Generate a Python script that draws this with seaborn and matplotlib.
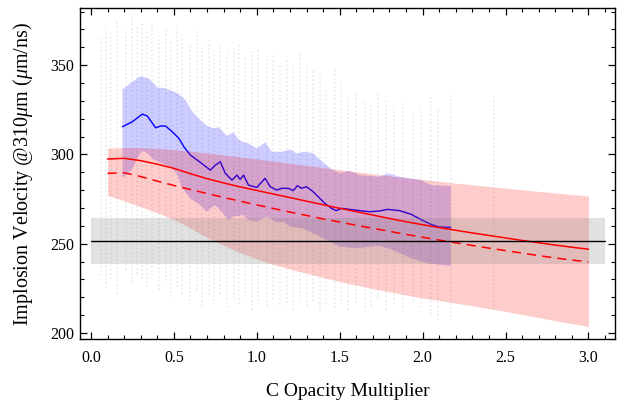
import numpy as np
import pandas as pd
import matplotlib
matplotlib.use("Agg")
import matplotlib.pyplot as plt
from matplotlib.ticker import MultipleLocator
import seaborn as sns

# ---------------- data ----------------
# faint simulation columns (x position, top and bottom of the dotted column)
col_x = [0.06, 0.09, 0.12, 0.16, 0.21, 0.25, 0.28, 0.31, 0.34, 0.37,
         0.41, 0.45, 0.48, 0.52, 0.55, 0.60, 0.64, 0.67, 0.71, 0.74,
         0.78, 0.82, 0.86, 0.89, 0.93, 0.97, 1.01, 1.06, 1.10, 1.14,
         1.18, 1.22, 1.26, 1.30, 1.34, 1.38, 1.42, 1.47, 1.51, 1.55,
         1.60, 1.65, 1.69, 1.73, 1.78, 1.83, 1.88, 1.94, 1.99, 2.05,
         2.09, 2.17, 2.43]
col_top = [365, 372, 368, 375, 370, 378, 372, 374, 369, 373,
           366, 370, 364, 371, 366, 362, 369, 360, 364, 358,
           362, 357, 360, 362, 355, 358, 359, 354, 357, 351,
           353, 349, 358, 350, 347, 345, 337, 348, 340, 332,
           335, 330, 329, 334, 331, 326, 329, 323, 326, 332,
           325, 333, 334]
col_bottom = [232, 225, 230, 222, 235, 228, 233, 230, 226, 232,
              224, 229, 220, 226, 222, 218, 224, 215, 221, 218,
              222, 214, 219, 216, 220, 213, 218, 215, 219, 214,
              217, 213, 220, 215, 218, 212, 216, 214, 218, 213,
              217, 212, 215, 219, 213, 216, 212, 218, 214, 210,
              207, 209, 213]

# blue band (upper / lower edges) and blue mean line
blue_up_x = [0.19, 0.25, 0.30, 0.35, 0.40, 0.44, 0.49, 0.53, 0.57, 0.60,
             0.63, 0.66, 0.70, 0.74, 0.77, 0.82, 0.86, 0.89, 0.92, 0.95,
             1.00, 1.05, 1.09, 1.15, 1.20, 1.24, 1.29, 1.34, 1.38, 1.42,
             1.46, 1.50, 1.56, 1.62, 1.68, 1.74, 1.79, 1.86, 1.93, 1.99,
             2.05, 2.17]
blue_up_y = [336.4, 340.7, 343.8, 342.5, 337.5, 337.2, 335.5, 333.8, 330.4, 325.5,
             322.0, 319.2, 316.0, 314.6, 315.2, 310.5, 312.3, 308.4, 306.8, 306.2,
             303.4, 306.8, 301.5, 301.5, 302.8, 300.6, 301.5, 300.6, 297.2, 294.0,
             291.2, 289.5, 290.8, 288.5, 287.9, 287.5, 289.4, 287.5, 286.5, 285.6,
             282.8, 282.3]
blue_lo_x = [0.19, 0.22, 0.25, 0.276, 0.306, 0.336, 0.376, 0.427, 0.467, 0.517,
             0.547, 0.597, 0.658, 0.698, 0.748, 0.778, 0.829, 0.859, 0.919, 0.949,
             0.999, 1.06, 1.12, 1.16, 1.20, 1.28, 1.36, 1.42, 1.50, 1.60,
             1.68, 1.74, 1.82, 1.93, 2.03, 2.17]
blue_lo_y = [287.0, 289.0, 292.0, 297.2, 301.9, 301.0, 297.2, 295.0, 293.5, 289.4,
             281.9, 275.4, 271.7, 267.9, 271.7, 268.9, 263.3, 265.1, 266.1, 263.3,
             262.3, 265.1, 261.8, 262.3, 259.5, 258.6, 254.9, 252.1, 248.4, 247.5,
             248.4, 248.8, 246.5, 241.8, 239.0, 237.5]
blue_line_x = [0.19, 0.25, 0.31, 0.34, 0.39, 0.42, 0.45, 0.49, 0.53, 0.56,
               0.60, 0.66, 0.72, 0.75, 0.78, 0.81, 0.85, 0.88, 0.90, 0.92,
               0.95, 1.00, 1.05, 1.08, 1.12, 1.15, 1.19, 1.22, 1.245, 1.27,
               1.30, 1.34, 1.38, 1.41, 1.45, 1.48, 1.51, 1.56, 1.62, 1.68,
               1.74, 1.79, 1.86, 1.93, 1.99, 2.05, 2.10, 2.17]
blue_line_y = [315.5, 318.3, 322.6, 321.5, 314.9, 315.9, 315.9, 312.7, 309.0, 304.3,
               299.6, 295.5, 291.2, 294.0, 295.9, 289.4, 285.6, 288.4, 286.0, 288.4,
               282.8, 281.5, 286.6, 282.0, 280.0, 281.0, 281.0, 279.7, 282.5, 281.0,
               281.9, 279.1, 275.4, 272.6, 269.8, 268.5, 269.8, 269.2, 268.5, 267.9,
               268.3, 269.2, 268.5, 266.5, 263.5, 260.8, 259.4, 259.1]

# red band, red solid and dashed lines
red_x = [0.1, 0.2, 0.3, 0.4, 0.5, 0.6, 0.7, 0.8, 0.9, 1.0,
         1.1, 1.2, 1.3, 1.4, 1.5, 1.6, 1.7, 1.8, 1.9, 2.0,
         2.1, 2.2, 2.3, 2.4, 2.5, 2.6, 2.7, 2.8, 2.9, 3.0]
red_upper = [303.5, 303.8, 303.8, 303.4, 302.7, 301.8, 300.8, 299.7, 298.6, 297.4,
             296.2, 295.0, 293.8, 292.6, 291.4, 290.2, 289.1, 288.0, 286.9, 285.9,
             284.9, 283.9, 283.0, 282.0, 281.1, 280.2, 279.3, 278.4, 277.5, 276.7]
red_lower = [277.1, 274.0, 270.7, 267.2, 263.6, 258.8, 253.4, 249.0, 245.0, 241.4,
             238.4, 235.8, 233.4, 231.0, 228.8, 226.8, 224.8, 223.0, 221.2, 219.6,
             218.2, 216.7, 215.2, 213.6, 212.0, 210.3, 208.6, 206.9, 205.2, 203.6]
red_solid = [297.4, 297.8, 296.5, 294.5, 292.2, 289.2, 286.4, 284.0, 281.8, 279.8,
             277.8, 275.8, 273.8, 271.8, 269.8, 267.9, 266.0, 264.1, 262.3, 260.6,
             259.0, 257.5, 256.0, 254.6, 253.2, 251.8, 250.5, 249.2, 248.0, 246.9]
red_dashed = [289.4, 289.7, 287.6, 285.0, 282.6, 280.3, 278.1, 275.9, 273.8, 271.7,
              269.7, 267.7, 265.8, 263.9, 262.1, 260.3, 258.6, 256.9, 255.2, 253.6,
              252.0, 250.5, 249.0, 247.5, 246.1, 244.7, 243.3, 242.0, 240.8, 239.8]

# experimental reference value and its band
ref_x = [0.0, 3.1]
ref_value = [251.7, 251.7]
ref_low = [238.6, 238.6]
ref_high = [264.2, 264.2]

x_ticks = [0.0, 0.5, 1.0, 1.5, 2.0, 2.5, 3.0]
y_ticks = [200, 250, 300, 350]

# ---------------- styling ----------------
sns.set_theme(style="ticks")
plt.rcParams['font.family'] = ['Liberation Serif', 'DejaVu Serif']
plt.rcParams['mathtext.fontset'] = 'custom'
plt.rcParams['mathtext.rm'] = 'Liberation Serif'
plt.rcParams['mathtext.it'] = 'Liberation Serif:italic'

fig = plt.figure(figsize=(6.19, 4.0), dpi=100)
ax = fig.add_axes([80/619, 61/400, 535/619, 331/400])

# dotted columns of individual runs
ax.vlines(col_x, col_bottom, col_top, colors='#707070', alpha=0.13,
          linewidth=1.3, linestyles=(0, (1, 1.3)), zorder=1)

# blue band + line
ax.fill(np.r_[blue_up_x, blue_lo_x[::-1]], np.r_[blue_up_y, blue_lo_y[::-1]],
        color='blue', alpha=0.2, lw=0, zorder=2)
sns.lineplot(x=blue_line_x, y=blue_line_y, ax=ax, color='#0000ff', lw=1.0,
             sort=False, estimator=None, zorder=3)

# red band
ax.fill_between(red_x, red_lower, red_upper, color='red', alpha=0.2, lw=0, zorder=4)

# experimental band
ax.fill_between(ref_x, ref_low, ref_high, color='#808080', alpha=0.23, lw=0, zorder=5)

sns.lineplot(x=red_x, y=red_solid, ax=ax, color='#ff0000', lw=1.1,
             sort=False, estimator=None, zorder=6)
sns.lineplot(x=red_x, y=red_dashed, ax=ax, color='#ff0000', lw=1.1,
             sort=False, estimator=None, zorder=6, dashes=False,
             linestyle=(0, (6, 4)))
sns.lineplot(x=ref_x, y=ref_value, ax=ax, color='black', lw=1.0,
             sort=False, estimator=None, zorder=7)

ax.set_xlim(-0.066, 3.16)
ax.set_ylim(196.6, 382)
ax.set_xticks(x_ticks)
ax.set_xticklabels([f"{v:.1f}" for v in x_ticks])
ax.set_yticks(y_ticks)
ax.set_yticklabels([str(v) for v in y_ticks])
ax.xaxis.set_minor_locator(MultipleLocator(0.1))
ax.yaxis.set_minor_locator(MultipleLocator(10))
ax.tick_params(which='both', direction='in', top=True, right=True,
               color='black', labelsize=11.5, labelcolor='black')
ax.tick_params(which='major', length=5, width=0.9)
ax.tick_params(which='minor', length=2.8, width=0.8)
ax.tick_params(axis='x', which='major', pad=8)
ax.tick_params(axis='y', which='major', pad=4)
for s in ax.spines.values():
    s.set_color('black')
    s.set_linewidth(1.0)
ax.set_facecolor('white')

ax.set_xlabel("C Opacity Multiplier", fontsize=14, labelpad=12, color='black')
ax.set_ylabel(r"Implosion Velocity @310$\mu$m ($\mu$m/ns)", fontsize=14.5,
              labelpad=11, color='black')

fig.savefig("out.png", dpi=100, facecolor='white')
